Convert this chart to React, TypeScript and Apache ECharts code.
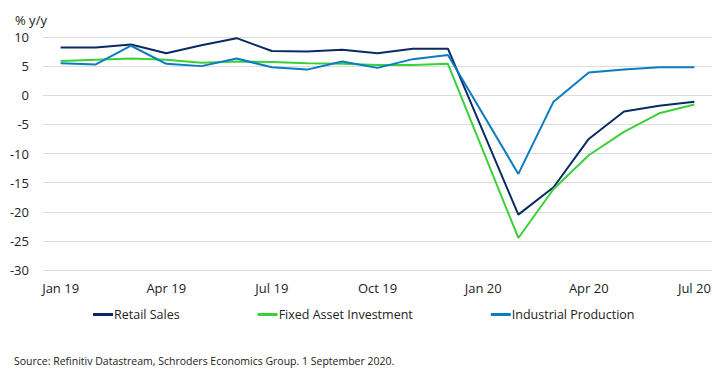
import React, { useEffect, useRef } from "react";
import * as echarts from "echarts";

const categories = [
  "Jan 19", "Feb 19", "Mar 19", "Apr 19", "May 19", "Jun 19", "Jul 19", "Aug 19", "Sep 19",
  "Oct 19", "Nov 19", "Dec 19", "Jan 20", "Feb 20", "Mar 20", "Apr 20", "May 20", "Jun 20", "Jul 20",
];
const retailSales = [8.2, 8.2, 8.7, 7.2, 8.6, 9.8, 7.6, 7.5, 7.8, 7.2, 8.0, 8.0, null, -20.5, -15.8, -7.5, -2.8, -1.8, -1.1];
const fixedAsset = [5.9, 6.1, 6.3, 6.1, 5.6, 5.8, 5.7, 5.5, 5.4, 5.2, 5.2, 5.4, null, -24.5, -16.1, -10.3, -6.3, -3.1, -1.6];
const industrial = [5.5, 5.3, 8.5, 5.4, 5.0, 6.3, 4.8, 4.4, 5.8, 4.7, 6.2, 6.9, null, -13.5, -1.1, 3.9, 4.4, 4.8, 4.8];
const shownLabels = ["Jan 19", "Apr 19", "Jul 19", "Oct 19", "Jan 20", "Apr 20", "Jul 20"];

const FONT = "'Open Sans', sans-serif";

export default function App() {
  const ref = useRef<HTMLDivElement>(null);
  useEffect(() => {
    const chart = echarts.init(ref.current!, null, { renderer: "svg" });
    const mk = (name: string, data: (number | null)[], color: string) => ({
      name,
      type: "line",
      data,
      connectNulls: true,
      showSymbol: false,
      symbol: "none",
      lineStyle: { color, width: 2 },
      itemStyle: { color },
    });
    chart.setOption({
      animation: false,
      textStyle: { fontFamily: FONT },
      grid: { left: 43, right: 8, top: 37, bottom: 102 },
      title: [
        { text: "% y/y", left: 10, top: 8, textStyle: { fontSize: 13, fontWeight: "normal", color: "#222", fontFamily: FONT } },
        { text: "Source: Refinitiv Datastream, Schroders Economics Group. 1 September 2020.", left: 9, top: 350, textStyle: { fontSize: 10.5, fontWeight: "normal", color: "#222", fontFamily: FONT } },
      ],
      legend: {
        left: 88,
        top: 303,
        itemWidth: 20,
        itemHeight: 3,
        itemGap: 78,
        icon: "rect",
        textStyle: { fontSize: 12.5, color: "#222", fontFamily: FONT, padding: [0, 0, 0, -4] },
        data: ["Retail Sales", "Fixed Asset Investment", "Industrial Production"],
      },
      xAxis: {
        type: "category",
        data: categories,
        boundaryGap: true,
        axisLine: { show: false },
        axisTick: { show: false },
        axisLabel: {
          interval: 0,
          margin: 11,
          fontSize: 13,
          color: "#222",
          fontFamily: FONT,
          formatter: (v: string) => (shownLabels.includes(v) ? v : ""),
        },
      },
      yAxis: {
        type: "value",
        min: -30,
        max: 10,
        interval: 5,
        axisLine: { show: false },
        axisTick: { show: false },
        axisLabel: { margin: 14, fontSize: 13, color: "#222", fontFamily: FONT },
        splitLine: { lineStyle: { color: "#dcdcdc", width: 1 } },
      },
      series: [
        mk("Retail Sales", retailSales, "#0b2a63"),
        mk("Fixed Asset Investment", fixedAsset, "#3ad03a"),
        mk("Industrial Production", industrial, "#0a7cc1"),
      ],
    });
    return () => chart.dispose();
  }, []);
  return <div ref={ref} style={{ width: 720, height: 372, position: "absolute", left: 0, top: 0 }} />;
}
